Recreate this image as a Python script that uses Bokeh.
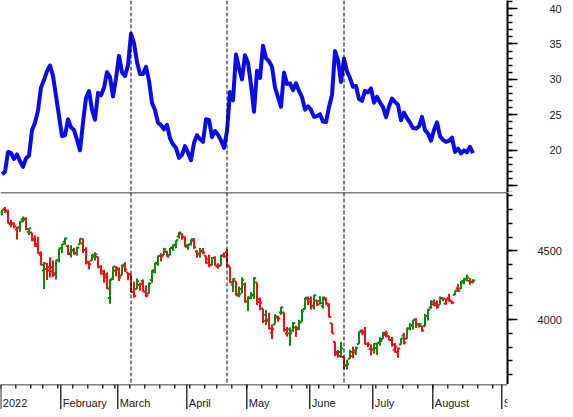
import pandas as pd
from bokeh.plotting import figure
from bokeh.layouts import column
from bokeh.models import LinearAxis, FixedTicker, Span, Range1d, ColumnDataSource
from bokeh.core.properties import value
from bokeh.embed import file_html
from bokeh.resources import INLINE

# ---------------- data ----------------
holidays = ["2022-01-17", "2022-02-21", "2022-04-15", "2022-05-30", "2022-06-20", "2022-07-04"]
calendar = pd.bdate_range("2022-01-03", "2022-09-01", freq="C", holidays=holidays)

spx_open = [
    4778, 4805, 4788, 4693, 4698, 4655, 4669, 4729, 4734, 4638, 4632, 4588, 4547, 4471, 4356, 4367, 4381, 4380, 4336, 4432,
    4520, 4566, 4535, 4483, 4506, 4480, 4547, 4553, 4506, 4413, 4429, 4456, 4456, 4385, 4333, 4325, 4156, 4298, 4354,
    4363, 4323, 4401, 4342, 4327, 4203, 4223, 4253, 4280, 4203, 4189, 4288, 4345, 4407, 4462, 4469, 4493, 4470, 4523, 4541, 4603, 4624, 4599,
    4540, 4548, 4572, 4494, 4475, 4494, 4463, 4438, 4394, 4449, 4386, 4391, 4472, 4489, 4386, 4255, 4278, 4187, 4223, 4254,
    4131, 4160, 4181, 4270, 4128, 4081, 4035, 3990, 3904, 3964, 4013, 4052, 4052, 3899, 3928, 3919, 3943, 3930, 3985, 4077, 4151,
    4150, 4095, 4138, 4135, 4096, 4147, 4102, 3974, 3838, 3764, 3764, 3728, 3666, 3715, 3734, 3775, 3822, 3921, 3913, 3825, 3786,
    3781, 3793, 3832, 3859, 3888, 3881, 3852, 3780, 3764, 3818, 3884, 3861, 3935, 3955, 3998, 3966, 3953, 3951, 4026, 4087,
    4112, 4104, 4108, 4155, 4116, 4156, 4133, 4181, 4227, 4225, 4269, 4290, 4280, 4273,
]
spx_high = [
    4797, 4819, 4798, 4725, 4708, 4673, 4714, 4749, 4744, 4665, 4632, 4612, 4602, 4495, 4417, 4411, 4453, 4429, 4433, 4517,
    4550, 4595, 4543, 4540, 4522, 4531, 4590, 4589, 4526, 4426, 4473, 4490, 4456, 4395, 4362, 4342, 4295, 4385, 4389,
    4378, 4401, 4417, 4342, 4327, 4277, 4299, 4268, 4291, 4248, 4271, 4358, 4413, 4465, 4482, 4522, 4501, 4521, 4546, 4576, 4637, 4628, 4603,
    4549, 4584, 4593, 4504, 4521, 4520, 4464, 4471, 4454, 4460, 4410, 4471, 4488, 4513, 4386, 4299, 4278, 4241, 4308, 4270,
    4170, 4200, 4308, 4270, 4158, 4081, 4069, 4049, 3965, 4039, 4027, 4091, 4052, 3946, 3943, 3982, 3956, 3999, 4075, 4158, 4168,
    4167, 4178, 4143, 4169, 4165, 4160, 4119, 3974, 3838, 3778, 3838, 3728, 3708, 3780, 3802, 3803, 3914, 3928, 3946, 3837, 3819,
    3830, 3832, 3871, 3911, 3919, 3881, 3873, 3829, 3796, 3864, 3902, 3940, 3974, 3999, 4012, 3975, 3953, 4040, 4079, 4140,
    4145, 4140, 4168, 4161, 4152, 4187, 4137, 4211, 4258, 4280, 4302, 4325, 4302, 4293,
]
spx_low = [
    4758, 4774, 4699, 4671, 4663, 4582, 4638, 4707, 4650, 4615, 4569, 4530, 4478, 4395, 4223, 4287, 4305, 4310, 4292, 4414,
    4484, 4544, 4470, 4452, 4471, 4465, 4547, 4484, 4401, 4365, 4429, 4430, 4374, 4327, 4267, 4222, 4115, 4287, 4315,
    4280, 4323, 4346, 4285, 4200, 4158, 4223, 4210, 4200, 4162, 4188, 4268, 4336, 4391, 4424, 4469, 4456, 4465, 4501, 4518, 4590, 4581, 4530,
    4508, 4539, 4514, 4450, 4450, 4475, 4408, 4381, 4393, 4392, 4370, 4391, 4449, 4384, 4268, 4201, 4175, 4163, 4189, 4124,
    4063, 4147, 4149, 4106, 4068, 3975, 3958, 3929, 3859, 3964, 3984, 4034, 3912, 3877, 3810, 3909, 3875, 3925, 3985, 4077, 4105,
    4074, 4074, 4099, 4109, 4080, 4107, 4017, 3900, 3734, 3725, 3722, 3640, 3637, 3715, 3718, 3744, 3822, 3890, 3820, 3799, 3739,
    3752, 3742, 3809, 3859, 3869, 3847, 3802, 3759, 3722, 3817, 3819, 3861, 3922, 3928, 3939, 3943, 3911, 3951, 3993, 4079,
    4096, 4080, 4108, 4135, 4107, 4129, 4112, 4177, 4201, 4220, 4257, 4278, 4253, 4262,
]
spx_close = [
    4797, 4794, 4701, 4696, 4677, 4670, 4713, 4726, 4659, 4663, 4577, 4533, 4483, 4398, 4410, 4356, 4350, 4327, 4432, 4516,
    4547, 4589, 4477, 4501, 4484, 4522, 4587, 4504, 4419, 4402, 4471, 4475, 4380, 4349, 4305, 4226, 4289, 4385, 4374,
    4306, 4387, 4363, 4329, 4201, 4171, 4278, 4260, 4204, 4173, 4262, 4358, 4412, 4463, 4461, 4512, 4456, 4520, 4543, 4576, 4632, 4602, 4530,
    4546, 4583, 4525, 4481, 4500, 4488, 4413, 4397, 4447, 4393, 4392, 4462, 4459, 4394, 4272, 4296, 4175, 4184, 4288, 4132,
    4155, 4175, 4300, 4147, 4123, 3991, 4001, 3935, 3930, 4024, 4008, 4089, 3924, 3901, 3901, 3974, 3941, 3979, 4058, 4158, 4132,
    4101, 4177, 4109, 4121, 4161, 4116, 4018, 3901, 3750, 3735, 3790, 3667, 3675, 3765, 3760, 3796, 3912, 3900, 3822, 3819, 3785,
    3825, 3831, 3845, 3903, 3899, 3854, 3819, 3802, 3790, 3863, 3831, 3937, 3960, 3999, 3962, 3967, 3921, 4024, 4072, 4130,
    4119, 4091, 4155, 4152, 4145, 4140, 4122, 4210, 4207, 4280, 4297, 4305, 4274, 4284,
]
vix_close = [
    16.60, 16.91, 19.73, 19.61, 18.76, 19.40, 18.41, 17.62, 18.83, 19.19, 22.79, 23.85, 25.59, 28.85, 29.90, 31.16, 31.96, 30.49, 27.66, 24.83,
    21.96, 22.09, 24.35, 23.22, 22.86, 21.44, 19.96, 23.91, 27.36, 28.33, 25.70, 24.29, 28.11, 27.75, 28.81, 31.02, 30.32, 27.59, 30.15,
    33.32, 31.00, 30.48, 31.98, 36.45, 35.13, 32.45, 30.75, 30.75, 31.77, 29.83, 26.67, 25.67, 23.87, 23.53, 22.94, 23.57, 21.67, 20.81, 20.31, 18.90, 19.33, 20.56,
    19.63, 18.57, 21.03, 22.10, 21.55, 21.16, 24.37, 24.26, 21.82, 22.70, 22.17, 21.37, 20.32, 22.68, 28.21, 27.02, 33.52, 31.60, 29.99, 33.40,
    32.34, 29.25, 25.42, 31.20, 30.19, 34.75, 32.99, 32.56, 31.77, 28.87, 27.47, 26.10, 30.96, 29.35, 29.43, 28.48, 29.45, 28.37, 27.50, 25.72, 26.19,
    25.69, 24.72, 24.79, 25.07, 24.02, 23.96, 26.09, 27.75, 34.02, 32.69, 29.62, 32.95, 31.13, 30.19, 28.95, 29.05, 27.23, 26.95, 28.36, 28.16, 28.71,
    26.70, 27.54, 26.73, 26.08, 24.64, 26.17, 27.29, 26.82, 26.40, 24.23, 25.30, 24.50, 23.88, 23.11, 23.03, 23.36, 24.69, 22.82, 22.33, 21.33,
    22.84, 23.93, 21.95, 21.44, 21.15, 21.29, 21.77, 19.74, 20.20, 19.53, 19.95, 19.69, 20.47, 19.56,
]
month_labels = ["2022", "February", "March", "April", "May", "June", "July", "August", "September"]
event_dates = ["2022-03-07", "2022-04-21", "2022-06-16"]
vix_ticks = [15, 20, 25, 30, 35, 40]
vix_minor = list(range(14, 42))
spx_ticks = [4000, 4500]
spx_minor = list(range(3600, 5000, 100))

# ---------------- derived ----------------
n = len(spx_close)
idx = list(range(n))
month_starts = [i for i in range(len(calendar)) if i == 0 or calendar[i].month != calendar[i - 1].month]
week_starts = [i for i in range(len(calendar)) if i == 0 or calendar[i].weekday() < calendar[i - 1].weekday()]
event_idx = [calendar.get_loc(pd.Timestamp(d)) for d in event_dates]
month_ticks = [m - 0.4 for m in month_starts]
week_ticks = [w - 0.4 for w in week_starts]

UP, DOWN = "#0a8a0a", "#f01010"
colors = []
for i in range(n):
    ref = spx_close[i - 1] if i > 0 else spx_open[i]
    colors.append(UP if spx_close[i] >= ref else DOWN)

bars = ColumnDataSource(dict(
    x=idx, xl=[i - 0.75 for i in idx], xr=[i + 0.75 for i in idx],
    o=spx_open, h=spx_high, l=spx_low, c=spx_close, color=colors))

FONT = "Liberation Sans"
FS = "11px"
TXT = "#222222"
FW, FH, AXH, RB = 507, 192, 25, 58
xr = Range1d(-0.5, 168.5)


def style_axis(ax, standoff):
    ax.axis_line_width = 2
    ax.axis_line_color = "black"
    ax.major_tick_out = 10
    ax.major_tick_in = 0
    ax.minor_tick_out = 5
    ax.minor_tick_in = 0
    ax.major_tick_line_width = 1.5
    ax.minor_tick_line_width = 1.5
    ax.major_label_standoff = standoff
    ax.major_label_text_font = FONT
    ax.major_label_text_font_size = FS
    ax.major_label_text_color = TXT


def base_fig(h, yr):
    f = figure(frame_width=FW, frame_height=h, x_range=xr, y_range=yr,
               output_backend="svg", toolbar_location=None,
               x_axis_location=None, y_axis_location=None,
               min_border_left=0, min_border_right=RB, min_border_top=0, min_border_bottom=0,
               outline_line_color=None, background_fill_color="white", border_fill_color="white")
    f.grid.visible = False
    return f


# ---------------- top: VIX ----------------
top = base_fig(FH, Range1d(14.0, 41.15))
top.line(idx, vix_close, line_color="#0a0af0", line_width=4, line_join="round")
vax = LinearAxis(ticker=FixedTicker(ticks=vix_ticks, minor_ticks=vix_minor),
                 major_label_overrides={15: ""})
style_axis(vax, 32)
top.add_layout(vax, "right")

# ---------------- bottom: S&P 500 bars ----------------
bot = base_fig(FH, Range1d(3528, 4923.6))
bot.segment(x0="x", y0="l", x1="x", y1="h", source=bars, line_color="color", line_width=2)
bot.segment(x0="xl", y0="o", x1="x", y1="o", source=bars, line_color="color", line_width=2)
bot.segment(x0="x", y0="c", x1="xr", y1="c", source=bars, line_color="color", line_width=2)
sax = LinearAxis(ticker=FixedTicker(ticks=spx_ticks, minor_ticks=spx_minor))
style_axis(sax, 20)
bot.add_layout(sax, "right")
bot.add_layout(Span(location=4923.6, dimension="width", line_color="black", line_width=1.5))

# ---------------- date strip (time axis) ----------------
strip = base_fig(AXH, Range1d(0, AXH))
strip.add_layout(Span(location=AXH, dimension="width", line_color="black", line_width=1.5))
strip.segment(x0=week_ticks, y0=[AXH] * len(week_ticks), x1=week_ticks, y1=[AXH - 4] * len(week_ticks),
              line_color="black", line_width=1.2)
strip.segment(x0=month_ticks, y0=[0] * len(month_ticks), x1=month_ticks, y1=[AXH] * len(month_ticks),
              line_color="black", line_width=1.2)
strip.text(x=month_ticks[:len(month_labels)], y=[6.5] * len(month_labels), text=month_labels,
           x_offset=2, text_align="left", text_baseline="alphabetic",
           text_font=value(FONT), text_font_size=FS, text_color=TXT)

# event lines
for e in event_idx:
    for fig in (top, bot):
        fig.add_layout(Span(location=e, dimension="height", line_color="black",
                            line_width=1, line_dash="4 2"))

layout = column(top, bot, strip, spacing=0)
open("out.html", "w").write(file_html(layout, INLINE))
